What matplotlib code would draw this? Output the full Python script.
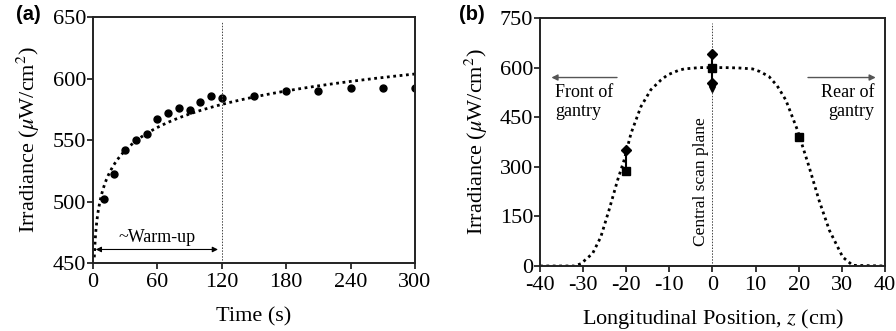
import numpy as np
import matplotlib
matplotlib.use("Agg")
import matplotlib.pyplot as plt

# ---------- data ----------
# Panel (a)
time_s = [10, 20, 30, 40, 50, 60, 70, 80, 90, 100, 110, 120, 150, 180, 210, 240, 270, 300]
irr_a = [502, 522, 542, 550, 555, 567, 572, 576, 574, 581, 586, 584, 586, 590, 590, 592, 592, 592]
warmup_end = 120

# Panel (b)
z_sq = [-20, 0, 20]
irr_sq = [288, 600, 390]
z_dia = [-20, 0, 0]
irr_dia = [352, 640, 553]
z_err = [-20, 0]
err_lo = [288, 535]
err_hi = [352, 640]
z_tri = [0]
irr_tri = [535]
curve_z = [-40, -32, -30.5, -27.8, -25.9, -24, -22, -20.5, -18.9, -16.6, -14.3, -12, -10.4,
           -8, -6.6, -3, 0, 3, 6, 9.3, 11, 13.1, 15, 17, 19.7, 22.4, 24.7, 27.1, 30.2, 32.5, 40]
curve_irr = [0, 0, 7, 38, 88, 169, 260, 320, 401, 482, 533, 562, 578,
             591, 596, 600, 600, 600, 599, 596, 588, 573, 545, 502, 411, 300, 199, 108, 27, 2, 0]

plt.rcParams['font.family'] = ['Liberation Serif', 'DejaVu Serif']
plt.rcParams['mathtext.fontset'] = 'stix'
plt.rcParams['axes.unicode_minus'] = False

fig = plt.figure(figsize=(8.96, 3.31), dpi=100)
ax1 = fig.add_axes([0.1038, 0.2054, 0.3594, 0.7432])
ax2 = fig.add_axes([0.6027, 0.1964, 0.3850, 0.7492])

spine_col = '#222222'
for ax in (ax1, ax2):
    for s in ax.spines.values():
        s.set_linewidth(1.4)
        s.set_color(spine_col)
    ax.tick_params(direction='out', length=4, width=1.1, labelsize=16, colors='black')
    ax.tick_params(axis='y', pad=1)
    ax.tick_params(axis='x', pad=3)

# ---------- panel (a) ----------
t = np.array(time_s, dtype=float)
coef = np.polyfit(np.log(t), np.array(irr_a, dtype=float), 1)
tf = np.linspace(1.2, 300, 400)
ax1.plot(tf, np.polyval(coef, np.log(tf)), color='black', lw=2.0, linestyle=(0, (1, 1.3)))
ax1.plot(time_s, irr_a, 'o', color='black', ms=5.0)
ax1.plot([warmup_end, warmup_end], [450, 646], color='#444444', lw=0.7, linestyle=(0, (1.5, 1.5)))
ax1.annotate('', xy=(0, 461), xytext=(warmup_end - 1, 461),
             arrowprops=dict(arrowstyle='<|-|>', color='black', lw=0.8, mutation_scale=8))
ax1.text(60, 463.5, '~Warm-up', ha='center', va='bottom', fontsize=13)
ax1.set_xlim(0, 300)
ax1.set_ylim(450, 650)
ax1.set_xticks([0, 60, 120, 180, 240, 300])
ax1.set_yticks([450, 500, 550, 600, 650])
ax1.set_xlabel('Time (s)', fontsize=16, labelpad=11)
ax1.set_ylabel(r'Irradiance ($\mu$W/cm$^2$)', fontsize=16, labelpad=8)
fig.text(0.032, 0.955, '(a)', fontsize=14.5, fontweight='bold', family='Liberation Sans',
         ha='center', va='center')

# ---------- panel (b) ----------
ax2.plot(curve_z, curve_irr, color='black', lw=2.0, linestyle=(0, (1, 1.3)))
ax2.plot([0, 0], [0, 736], color='#444444', lw=0.7, linestyle=(0, (1.5, 1.5)))
ax2.vlines(z_err, err_lo, err_hi, color='black', lw=1.5)
ax2.plot(z_sq, irr_sq, 's', color='black', ms=6)
ax2.plot(z_dia, irr_dia, 'D', color='black', ms=5)
ax2.plot(z_tri, irr_tri, 'v', color='black', ms=5)
ax2.annotate('', xy=(-38, 570), xytext=(-21.5, 570),
             arrowprops=dict(arrowstyle='-|>', color='#555555', lw=1.0, mutation_scale=9))
ax2.annotate('', xy=(38.5, 570), xytext=(21.5, 570),
             arrowprops=dict(arrowstyle='-|>', color='#555555', lw=1.0, mutation_scale=9))
ax2.text(-36.5, 495, 'Front of\ngantry', ha='left', va='center', fontsize=13, linespacing=1.15)
ax2.text(37.5, 495, 'Rear of\ngantry', ha='right', va='center', fontsize=13, linespacing=1.15)
ax2.text(-2.6, 255, 'Central scan plane', rotation=90, ha='center', va='center', fontsize=12.5)
ax2.set_xlim(-40, 40)
ax2.set_ylim(0, 750)
ax2.set_xticks(range(-40, 41, 10))
ax2.set_yticks(range(0, 751, 150))
ax2.set_xlabel(r'Longitudinal Position, $z$ (cm)', fontsize=16, labelpad=9)
ax2.set_ylabel(r'Irradiance ($\mu$W/cm$^2$)', fontsize=16, labelpad=7)
fig.text(0.527, 0.955, '(b)', fontsize=14.5, fontweight='bold', family='Liberation Sans',
         ha='center', va='center')

fig.savefig('out.png', dpi=100)
